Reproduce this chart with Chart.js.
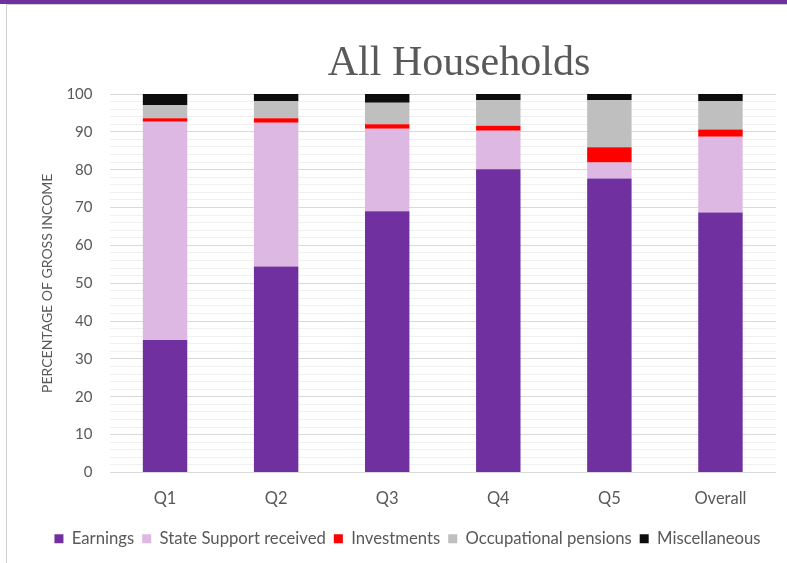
<!DOCTYPE html>
<html>
<head>
<meta charset="utf-8">
<script src="https://cdn.jsdelivr.net/npm/chart.js@4"></script>
<style>
  html, body { margin: 0; padding: 0; background: #fff; overflow: hidden; }
  .strip { position: absolute; left: 0; top: 0; width: 787px; height: 4px; background: #7030a0; }
  .frame { position: absolute; left: 6px; top: 4px; width: 790px; height: 570px;
           border-left: 1px solid #d0d0d0; border-top: 1px solid #d0d0d0; }
  .box { position: absolute; left: 7px; top: 6px; width: 780px; height: 557px; }
</style>
</head>
<body>
<div class="strip"></div>
<div class="frame"></div>
<div class="box"><canvas id="incomeChart"></canvas></div>
<script>
// Dữ liệu
const categories = ["Q1", "Q2", "Q3", "Q4", "Q5", "Overall"];
const earnings = [35.0, 54.4, 69.0, 80.1, 77.7, 68.7];
const stateSupport = [57.7, 38.0, 21.8, 10.2, 4.2, 20.0];
const investments = [0.9, 1.2, 1.2, 1.3, 4.0, 1.9];
const pensions = [3.5, 4.5, 5.7, 6.8, 12.5, 7.5];
const misc = [2.9, 1.9, 2.3, 1.6, 1.6, 1.9];

const textColor = "#595959";
const fontName = "Lato, 'Open Sans', sans-serif";

// tiêu đề vẽ tay để đặt lệch tâm như bản gốc
const titlePlugin = {
  id: "bigTitle",
  afterDraw(chart) {
    const c = chart.ctx;
    c.save();
    c.font = "42px 'Liberation Serif', serif";
    c.fillStyle = textColor;
    c.textAlign = "center";
    c.textBaseline = "alphabetic";
    c.fillText("All Households", 452, 69);
    c.restore();
  },
};

new Chart(document.getElementById("incomeChart").getContext("2d"), {
  type: "bar",
  data: {
    labels: categories,
    datasets: [
      { label: "Earnings", data: earnings, backgroundColor: "#7030a0" },
      { label: "State Support received", data: stateSupport, backgroundColor: "#ddb8e3" },
      { label: "Investments", data: investments, backgroundColor: "#ff0000" },
      { label: "Occupational pensions", data: pensions, backgroundColor: "#bfbfbf" },
      { label: "Miscellaneous", data: misc, backgroundColor: "#0d0d0d" },
    ],
  },
  options: {
    responsive: true,
    maintainAspectRatio: false,
    animation: false,
    datasets: { bar: { barPercentage: 0.4, categoryPercentage: 1.0 } },
    layout: { padding: { left: 32, right: 11, top: 88, bottom: 6 } },
    plugins: {
      legend: {
        position: "bottom",
        labels: {
          color: textColor,
          font: { family: fontName, size: 16.7 },
          boxWidth: 9,
          boxHeight: 9,
          padding: 8,
        },
      },
      tooltip: { enabled: false },
    },
    scales: {
      x: {
        stacked: true,
        afterFit(scale) { scale.height += 6; },
        grid: { display: false },
        border: { display: false },
        ticks: { color: textColor, font: { family: fontName, size: 16.5 }, padding: 8 },
      },
      y: {
        stacked: true,
        min: 0,
        max: 100,
        afterFit(scale) { scale.width = 70.5; },
        border: { display: false },
        grid: {
          drawTicks: false,
          color: (ctx) => (ctx.tick && ctx.tick.value % 10 === 0 ? "#d9d9d9" : "#f0f0f0"),
        },
        ticks: {
          stepSize: 2,
          autoSkip: false,
          padding: 17,
          color: textColor,
          font: { family: fontName, size: 15 },
          callback: (v) => (v % 10 === 0 ? v : ""),
        },
        title: {
          display: true,
          text: "PERCENTAGE OF GROSS INCOME",
          color: textColor,
          font: { family: fontName, size: 14 },
          padding: { top: 0, bottom: 0 },
        },
      },
    },
  },
  plugins: [titlePlugin],
});
</script>
</body>
</html>
